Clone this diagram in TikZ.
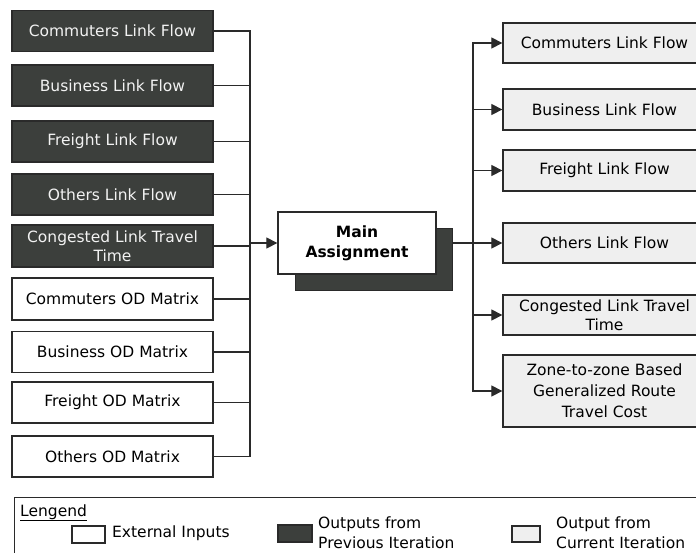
\documentclass[tikz,border=0pt]{standalone}
\usepackage{fontspec}
\setmainfont{DejaVu Sans}
\usetikzlibrary{arrows.meta}

\definecolor{linecol}{HTML}{2A2A2A}
\definecolor{prevfill}{HTML}{3C3F3C}
\definecolor{prevtext}{HTML}{F2F2F2}
\definecolor{curfill}{HTML}{EFEFEF}

\begin{document}
\begin{tikzpicture}[
  x=1pt, y=-1pt,
  every node/.style={font=\fontsize{15.5}{19.5}\selectfont},
  box/.style={draw=linecol, line width=1.3pt, inner sep=0pt,
    minimum width=201pt, minimum height=41pt, align=center},
  prevbox/.style={box, fill=prevfill, text=prevtext},
  extbox/.style={box, fill=white, text=black},
  curbox/.style={box, fill=curfill, text=black, minimum width=203pt,
    minimum height=40pt},
  mainbox/.style={draw=linecol, line width=1.3pt, fill=white, inner sep=0pt,
    minimum width=158pt, minimum height=62pt, align=center,
    font=\fontsize{15.5}{20}\selectfont\bfseries},
  shadowbox/.style={draw=linecol, line width=1pt, fill=prevfill, inner sep=0pt,
    minimum width=157pt, minimum height=62pt},
  link/.style={draw=linecol, line width=1.2pt},
  feed/.style={link, -{Triangle[length=11pt,width=11pt]}},
  keybox/.style={draw=linecol, line width=1.2pt, inner sep=0pt},
  keytext/.style={anchor=west, align=left, inner sep=0pt,
    font=\fontsize{15.5}{20}\selectfont}
]
\useasboundingbox (0,0) rectangle (696,552);
\clip (0,0) rectangle (696,552);
\fill[white] (0,0) rectangle (696,552);

% inputs: outputs of the previous iteration and external OD matrices
\node[prevbox] (l1) at (112.5,31)  {Commuters Link Flow};
\node[prevbox] (l2) at (112.5,85.5) {Business Link Flow};
\node[prevbox] (l3) at (112.5,141.5) {Freight Link Flow};
\node[prevbox] (l4) at (112.5,194.5) {Others Link Flow};
\node[prevbox, minimum height=42pt] (l5) at (112.5,246) {Congested Link Travel\\Time};
\node[extbox, minimum height=42pt] (l6) at (112.5,299) {Commuters OD Matrix};
\node[extbox] (l7) at (112.5,352) {Business OD Matrix};
\node[extbox] (l8) at (112.5,402.5) {Freight OD Matrix};
\node[extbox] (l9) at (112.5,456.5) {Others OD Matrix};

% main assignment block with its shadow
\node[shadowbox] (mainshadow) at (373.5,259) {};
\node[mainbox] (main) at (357,243) {Main\\Assignment};

% outputs of the current iteration
\node[curbox] (r1) at (604.5,43)    {Commuters Link Flow};
\node[curbox, minimum height=41pt] (r2) at (604.5,109.5) {Business Link Flow};
\node[curbox, minimum height=41pt] (r3) at (604.5,170.5) {Freight Link Flow};
\node[curbox] (r4) at (604.5,243)   {Others Link Flow};
\node[curbox] (r5) at (604.5,315)   {Congested Link Travel\\Time};
\node[curbox, minimum height=72pt, font=\fontsize{15.5}{21}\selectfont]
  (r6) at (604.5,391) {Zone-to-zone Based\\Generalized Route\\Travel Cost};

% collector buses
\coordinate (busL) at (250,243);
\coordinate (busR) at (473,243);

\foreach \n in {l1,l2,l3,l4,l5,l6,l7,l8,l9}
  \draw[link] (\n.east) -| (busL);
\draw[feed] (busL) -- (main.west);

\draw[link] (mainshadow.east |- main.east) -- (busR);
\foreach \n in {r1,r2,r3,r4,r5,r6}
  \draw[feed] (busR) |- (\n.west);

% legend
\node[draw=linecol, line width=1.3pt, inner sep=0pt, minimum width=700pt,
  minimum height=80pt, anchor=north west] (legend) at (14,497) {};
\node[anchor=base west, inner sep=0pt] (legtitle) at (20,516) {\underline{Lengend}};

\node[keybox, fill=white, minimum width=33pt, minimum height=17pt] (kext) at (88.5,534.5) {};
\node[keytext] (text-ext) at (112,533) {External Inputs};

\node[keybox, fill=prevfill, minimum width=34pt, minimum height=17pt] (kprev) at (295,533.5) {};
\node[keytext] (text-prev) at (318,533) {Outputs from\\Previous Iteration};

\node[keybox, fill=curfill, minimum width=28pt, minimum height=16pt] (kcur) at (526,534) {};
\node[keytext] (text-cur) at (556,533) {Output from\\Current Iteration};
\end{tikzpicture}
\end{document}
